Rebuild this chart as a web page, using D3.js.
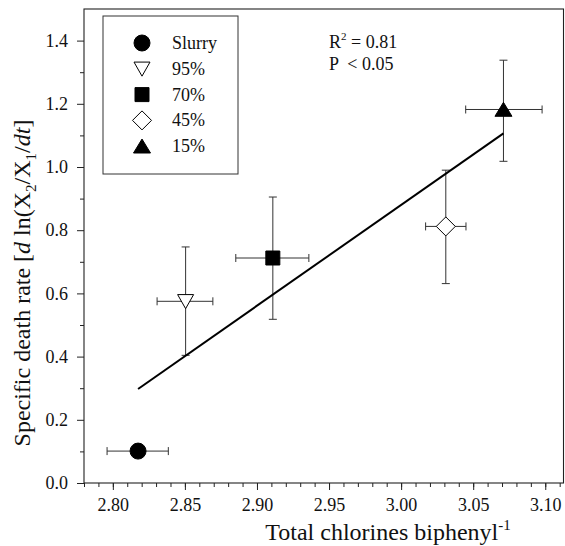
<!DOCTYPE html>
<html lang="en">
<head>
<meta charset="UTF-8">
<title>Specific death rate</title>
<style>
  body { margin: 0; background: #fff; overflow: hidden; }
</style>
</head>
<body>
<script src="https://cdn.jsdelivr.net/npm/d3@7"></script>
<script>
// values
const groups = ["Slurry", "95%", "70%", "45%", "15%"];
const chlorines = [2.8175, 2.8505, 2.911, 3.031, 3.071];
const deathRate = [0.101, 0.575, 0.712, 0.812, 1.182];
const xErrLow = [2.796, 2.8307, 2.8853, 3.017, 3.0448];
const xErrHigh = [2.8385, 2.8694, 2.936, 3.045, 3.0978];
const yErrLow = [null, 0.404, 0.518, 0.631, 1.018];
const yErrHigh = [null, 0.747, 0.905, 0.99, 1.338];
const xTicks = [2.80, 2.85, 2.90, 2.95, 3.00, 3.05, 3.10];
const yTicks = [0.0, 0.2, 0.4, 0.6, 0.8, 1.0, 1.2, 1.4];
const statLines = ["R", "P  < 0.05"];

const W = 565, H = 546;
const serif = "'Liberation Serif', 'Times New Roman', serif";
const svg = d3.select("body").append("svg").attr("width", W).attr("height", H)
  .attr("font-family", serif);

const x = d3.scaleLinear().domain([2.78, 3.113]).range([84, 564]);
const y = d3.scaleLinear().domain([0, 1.5]).range([483, 9]);

// marker look per group
const markers = {
  "Slurry": {shape: "circle", fill: "#000"},
  "95%": {shape: "down", fill: "#fff"},
  "70%": {shape: "square", fill: "#000"},
  "45%": {shape: "diamond", fill: "#fff"},
  "15%": {shape: "up", fill: "#000"}
};
function shapePath(shape, s) {
  const p = d3.path();
  if (shape === "circle") { p.arc(0, 0, s / 2, 0, 2 * Math.PI); }
  else if (shape === "square") { p.rect(-s / 2, -s / 2, s, s); }
  else if (shape === "diamond") { p.moveTo(0, -s / 2); p.lineTo(s / 2, 0); p.lineTo(0, s / 2); p.lineTo(-s / 2, 0); p.closePath(); }
  else if (shape === "down") { p.moveTo(-s / 2, -s * 0.42); p.lineTo(s / 2, -s * 0.42); p.lineTo(0, s * 0.46); p.closePath(); }
  else if (shape === "up") { p.moveTo(-s / 2, s * 0.4); p.lineTo(s / 2, s * 0.4); p.lineTo(0, -s * 0.42); p.closePath(); }
  return p.toString();
}
const markerSize = {circle: 16, square: 14, diamond: 19, down: 16, up: 17};

// axes
const xMinor = d3.range(2.78, 3.1131, 0.01);
const yMinor = d3.range(0.1, 1.5, 0.2);

function styleAxis(g) {
  g.select(".domain").remove();
  g.attr("font-family", serif).attr("font-size", 18);
  g.selectAll("text").attr("fill", "#111");
  g.selectAll("line").attr("stroke", "#222");
}

svg.append("g").attr("transform", "translate(0,483)")
  .call(d3.axisBottom(x).tickValues(xMinor).tickSize(4).tickFormat(""))
  .call(styleAxis);
svg.append("g").attr("transform", "translate(0,483)")
  .call(d3.axisBottom(x).tickValues(xTicks).tickSize(7).tickPadding(8).tickFormat(d3.format(".2f")))
  .call(styleAxis);
svg.append("g").attr("transform", "translate(84,0)")
  .call(d3.axisLeft(y).tickValues(yMinor).tickSize(4).tickFormat(""))
  .call(styleAxis);
svg.append("g").attr("transform", "translate(84,0)")
  .call(d3.axisLeft(y).tickValues(yTicks).tickSize(7).tickPadding(9).tickFormat(d3.format(".1f")))
  .call(styleAxis);

// frame
svg.append("rect")
  .attr("x", x.range()[0]).attr("y", y.range()[1])
  .attr("width", x.range()[1] - x.range()[0] - 0.5).attr("height", y.range()[0] - y.range()[1])
  .attr("fill", "none").attr("stroke", "#222").attr("stroke-width", 1.1);

// axis titles
const xt = svg.append("text").attr("x", 388).attr("y", 540).attr("text-anchor", "middle")
  .attr("font-size", 24).attr("fill", "#111");
xt.append("tspan").text("Total chlorines biphenyl");
xt.append("tspan").attr("dy", -10).attr("font-size", 15).text("-1");

const yt = svg.append("text").attr("transform", "translate(30,283) rotate(-90)")
  .attr("text-anchor", "middle").attr("font-size", 24).attr("fill", "#111");
yt.append("tspan").text("Specific death rate [");
yt.append("tspan").attr("font-style", "italic").text("d");
yt.append("tspan").text(" ln(X");
yt.append("tspan").attr("dy", 6).attr("font-size", 15).text("2");
yt.append("tspan").attr("dy", -6).text("/X");
yt.append("tspan").attr("dy", 6).attr("font-size", 15).text("1");
yt.append("tspan").attr("dy", -6).text("/");
yt.append("tspan").attr("font-style", "italic").text("dt");
yt.append("tspan").text("]");

// data records
const pts = groups.map((g, i) => ({
  g, x: chlorines[i], y: deathRate[i],
  x0: xErrLow[i], x1: xErrHigh[i], y0: yErrLow[i], y1: yErrHigh[i]
}));

// error bars
const eb = svg.append("g").attr("stroke", "#333").attr("stroke-width", 1).attr("fill", "none");
pts.forEach(d => {
  eb.append("line").attr("x1", x(d.x0)).attr("x2", x(d.x1)).attr("y1", y(d.y)).attr("y2", y(d.y));
  [d.x0, d.x1].forEach(v => eb.append("line").attr("x1", x(v)).attr("x2", x(v))
    .attr("y1", y(d.y) - 4).attr("y2", y(d.y) + 4));
  if (d.y0 != null) {
    eb.append("line").attr("x1", x(d.x)).attr("x2", x(d.x)).attr("y1", y(d.y0)).attr("y2", y(d.y1));
    [d.y0, d.y1].forEach(v => eb.append("line").attr("x1", x(d.x) - 4).attr("x2", x(d.x) + 4)
      .attr("y1", y(v)).attr("y2", y(v)));
  }
});

// least squares line over the data range
const mx = d3.mean(chlorines), my = d3.mean(deathRate);
const slope = d3.sum(chlorines, (v, i) => (v - mx) * (deathRate[i] - my)) / d3.sum(chlorines, v => (v - mx) ** 2);
const fit = v => my + slope * (v - mx);
const xr = d3.extent(chlorines);
svg.append("path")
  .attr("d", d3.line().x(v => x(v)).y(v => y(fit(v)))(xr))
  .attr("stroke", "#000").attr("stroke-width", 2).attr("fill", "none");

// markers
svg.append("g").selectAll("path").data(pts).join("path")
  .attr("transform", d => `translate(${x(d.x)},${y(d.y)})`)
  .attr("d", d => shapePath(markers[d.g].shape, markerSize[markers[d.g].shape]))
  .attr("fill", d => markers[d.g].fill)
  .attr("stroke", "#000").attr("stroke-width", 1);

// legend
const lg = svg.append("g");
lg.append("rect").attr("x", 103).attr("y", 16).attr("width", 135).attr("height", 158)
  .attr("fill", "#fff").attr("stroke", "#333").attr("stroke-width", 1);
groups.forEach((g, i) => {
  const cy = 43 + i * 25.8;
  lg.append("path").attr("transform", `translate(142,${cy})`)
    .attr("d", shapePath(markers[g].shape, markerSize[markers[g].shape]))
    .attr("fill", markers[g].fill).attr("stroke", "#000").attr("stroke-width", 1);
  lg.append("text").attr("x", 172).attr("y", cy + 6).attr("font-size", 18).attr("fill", "#111").text(g);
});

// statistics
const st = svg.append("text").attr("x", 329).attr("y", 48).attr("font-size", 18).attr("fill", "#111");
st.append("tspan").text(statLines[0]);
st.append("tspan").attr("dy", -8).attr("font-size", 11).text("2");
st.append("tspan").attr("dy", 8).text(" = 0.81");
svg.append("text").attr("x", 329).attr("y", 70).attr("font-size", 18).attr("fill", "#111")
  .style("white-space", "pre").text(statLines[1]);
</script>
</body>
</html>
